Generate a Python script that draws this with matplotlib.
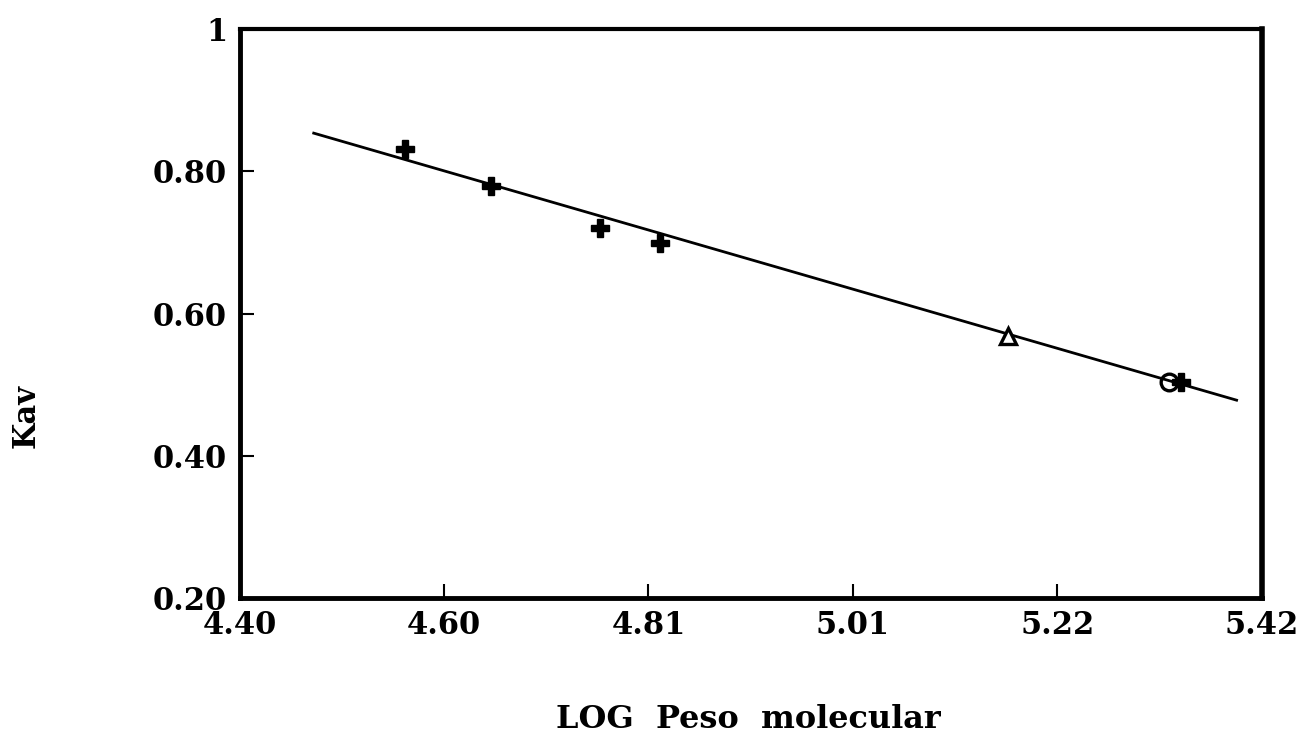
import numpy as np
import matplotlib.pyplot as plt

# puntos de calibracion (cruces)
x_cruz = [4.565, 4.651, 4.760, 4.820, 5.340]
y_cruz = [0.831, 0.780, 0.721, 0.700, 0.503]
# triangulo y circulo
x_tri = [5.167]
y_tri = [0.568]
x_circ = [5.328]
y_circ = [0.503]
# recta ajustada
x_recta = [4.474, 5.395]
y_recta = [0.854, 0.478]

xticks = np.linspace(4.40, 5.42, 6)
yticks = [0.20, 0.40, 0.60, 0.80, 1.0]
ylabels = ["0.20", "0.40", "0.60", "0.80", "1"]

plt.rcParams['font.family'] = ['DejaVu Serif']
plt.rcParams['font.weight'] = 'bold'

fig = plt.figure(figsize=(13.02, 7.36), dpi=100)
ax = fig.add_axes([0.184, 0.188, 0.785, 0.772])

ax.plot(x_recta, y_recta, color="black", linewidth=2)
ax.plot(x_cruz, y_cruz, linestyle="none", marker="P", color="black", markersize=13)
ax.plot(x_tri, y_tri, linestyle="none", marker="^", markerfacecolor="white",
        markeredgecolor="black", markeredgewidth=2.4, markersize=12)
ax.plot(x_circ, y_circ, linestyle="none", marker="o", markerfacecolor="none",
        markeredgecolor="black", markeredgewidth=2.4, markersize=12)

ax.set_xlim(4.40, 5.42)
ax.set_ylim(0.20, 1.0)
ax.set_xticks(xticks)
ax.set_xticklabels(["%.2f" % v for v in xticks])
ax.set_yticks(yticks)
ax.set_yticklabels(ylabels)
ax.tick_params(direction="in", length=10, width=1.5, labelsize=22, pad=9)

ax.spines['left'].set_linewidth(3.5)
ax.spines['bottom'].set_linewidth(3.5)
ax.spines['top'].set_linewidth(3)
ax.spines['right'].set_linewidth(4)

fig.text(0.02, 0.435, "Kav", rotation=90, fontsize=22, fontweight="bold",
         ha="center", va="center")
fig.text(0.575, 0.022, "LOG  Peso  molecular", fontsize=23, fontweight="bold",
         ha="center", va="center")

fig.savefig("out.png", dpi=100)
